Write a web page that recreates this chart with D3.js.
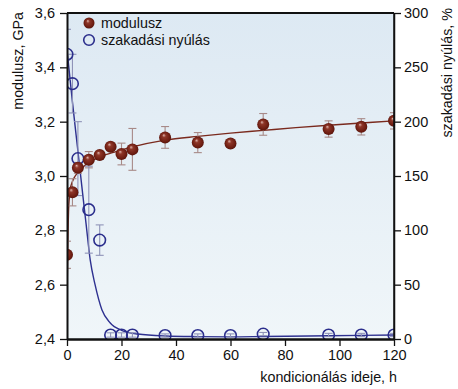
<!DOCTYPE html>
<html><head><meta charset="utf-8">
<script src="https://cdn.jsdelivr.net/npm/d3@7"></script>
<style>html,body{margin:0;padding:0;background:#fff;}svg{display:block;font-family:"Liberation Sans",Arial,sans-serif;}</style>
</head><body>
<svg id="c" width="458" height="389"></svg>
<script>
// data
const hours = [0,2,4,8,12,16,20,24,36,48,60,72,96,108,120];
const modulus = [2.71,2.94,3.03,3.06,3.077,3.108,3.081,3.098,3.142,3.123,3.12,3.19,3.173,3.181,3.203];
const modulusErr = [0.05,0.05,0.02,0.03,0.01,0.01,0.04,0.077,0.04,0.037,0,0.04,0.03,0.03,0.03];
const elongation = [262,235,166,119,91,3.7,3.7,3.7,3.2,3.2,3.2,4.5,3.7,3.7,3.7];
const elongationErr = [23,27,34,40,14,2,2,2,1.5,1.5,1.5,1.5,1.5,1.5,1.5];
const modFitHours = [0.1,0.3,0.6,1.2,2,3,4.8,8,12,18,24,36,48,60,72,84,96,108,120];
const modFitValues = [2.62,2.75,2.88,2.95,2.98,3.0,3.022,3.05,3.07,3.09,3.107,3.132,3.146,3.158,3.168,3.178,3.187,3.195,3.203];
const elFitHours = [0,2,4,6,7,8.5,10.3,12.8,15.8,20,26,36,48,60,72,96,120];
const elFitValues = [266,218,173,128,106,73,50,27,15,8,4.6,2.8,2.2,2.0,2.3,3.0,3.7];
const xTicks = [0,20,40,60,80,100,120];
const yLeftTicks = [2.4,2.6,2.8,3.0,3.2,3.4,3.6];
const yRightTicks = [0,50,100,150,200,250,300];
const legendLabels = ["modulusz","szakadási nyúlás"];
const xTitle = "kondicionálás ideje, h";
const yLeftTitle = "modulusz, GPa";
const yRightTitle = "szakadási nyúlás, %";

const L=67, R=394, T=13, B=339;
const svg = d3.select("#c");
const x = d3.scaleLinear().domain([0,120]).range([L,R]);
const yL = d3.scaleLinear().domain([2.4,3.6]).range([B,T]);
const yR = d3.scaleLinear().domain([0,300]).range([B,T]);

const defs = svg.append("defs");
const bg = defs.append("linearGradient").attr("id","bg").attr("x1",0).attr("y1",0).attr("x2",0).attr("y2",1);
bg.append("stop").attr("offset","0%").attr("stop-color","#dde9f3");
bg.append("stop").attr("offset","100%").attr("stop-color","#f0f6f9");
const sph = defs.append("radialGradient").attr("id","sph").attr("cx","50%").attr("cy","50%").attr("r","55%").attr("fx","38%").attr("fy","30%");
sph.append("stop").attr("offset","0%").attr("stop-color","#e0b8b0");
sph.append("stop").attr("offset","28%").attr("stop-color","#8e3628");
sph.append("stop").attr("offset","80%").attr("stop-color","#6a1b10");
sph.append("stop").attr("offset","100%").attr("stop-color","#4a0f08");
defs.append("clipPath").attr("id","clip").append("rect").attr("x",L).attr("y",T).attr("width",R-L).attr("height",B-T);

svg.append("rect").attr("x",L).attr("y",T).attr("width",R-L).attr("height",B-T).attr("fill","url(#bg)");

const plot = svg.append("g").attr("clip-path","url(#clip)");

// fit lines
const modLine = d3.line().x((d,i)=>x(modFitHours[i])).y(d=>yL(d)).curve(d3.curveMonotoneX);
plot.append("path").attr("d",modLine(modFitValues)).attr("fill","none").attr("stroke","#7a2a1e").attr("stroke-width",1.4);
const elLine = d3.line().x((d,i)=>x(elFitHours[i])).y(d=>yR(d)).curve(d3.curveMonotoneX);
plot.append("path").attr("d",elLine(elFitValues)).attr("fill","none").attr("stroke","#2e3190").attr("stroke-width",1.4);

// error bars
function errBars(vals, errs, sc, color){
  const g = plot.append("g").attr("stroke",color).attr("stroke-width",1.1).attr("fill","none");
  hours.forEach((h,i)=>{
    if(!errs[i]) return;
    const cx = x(h), y1 = sc(vals[i]-errs[i]), y2 = sc(vals[i]+errs[i]);
    g.append("line").attr("x1",cx).attr("x2",cx).attr("y1",y1).attr("y2",y2);
    g.append("line").attr("x1",cx-4).attr("x2",cx+4).attr("y1",y1).attr("y2",y1);
    g.append("line").attr("x1",cx-4).attr("x2",cx+4).attr("y1",y2).attr("y2",y2);
  });
}
errBars(modulus, modulusErr, yL, "#a88a88");
errBars(elongation, elongationErr, yR, "#8f93b8");

// markers
plot.append("g").selectAll("circle").data(elongation).join("circle")
  .attr("cx",(d,i)=>x(hours[i])).attr("cy",d=>yR(d)).attr("r",5.8)
  .attr("fill","none").attr("stroke","#2b2e8c").attr("stroke-width",1.6);
plot.append("g").selectAll("circle").data(modulus).join("circle")
  .attr("cx",(d,i)=>x(hours[i])).attr("cy",d=>yL(d)).attr("r",6)
  .attr("fill","url(#sph)");

// frame
svg.append("line").attr("x1",L).attr("x2",R).attr("y1",T).attr("y2",T).attr("stroke","#111").attr("stroke-width",2.2);
svg.append("line").attr("x1",R).attr("x2",R).attr("y1",T).attr("y2",B).attr("stroke","#111").attr("stroke-width",1.5);

// axes
const fmt = d=>d3.format(".1f")(d).replace(".",",");
const ax = svg.append("g").attr("transform",`translate(0,${B})`).call(d3.axisBottom(x).tickValues(xTicks).tickSize(7).tickPadding(4).tickSizeOuter(0));
const ayL = svg.append("g").attr("transform",`translate(${L},0)`).call(d3.axisLeft(yL).tickValues(yLeftTicks).tickFormat(fmt).tickSize(7).tickPadding(5).tickSizeOuter(0));
const ayR = svg.append("g").attr("transform",`translate(${R},0)`).call(d3.axisRight(yR).tickValues(yRightTicks).tickSize(7).tickPadding(3).tickSizeOuter(0));
[ax,ayL,ayR].forEach(a=>{
  a.selectAll("text").attr("font-size",14.5).attr("fill","#111").attr("font-family","Liberation Sans, Arial, sans-serif");
  a.selectAll(".tick line").attr("stroke","#111").attr("stroke-width",1.3);
  a.select(".domain").attr("stroke","#111");
});
ax.select(".domain").attr("stroke-width",2.6);
ayL.select(".domain").attr("stroke-width",2);
ayR.select(".domain").attr("stroke-width",1.5);

// titles
svg.append("text").attr("x",397).attr("y",382).attr("text-anchor","end").attr("font-size",14.3).attr("fill","#111").text(xTitle);
svg.append("text").attr("transform","translate(22.5,0) rotate(-90)").attr("x",-12).attr("text-anchor","end").attr("font-size",14.3).attr("fill","#111").text(yLeftTitle);
svg.append("text").attr("transform","translate(452,0) rotate(-90)").attr("x",-8).attr("text-anchor","end").attr("font-size",14.3).attr("fill","#111").text(yRightTitle);

// legend
const lg = svg.append("g");
lg.append("circle").attr("cx",89).attr("cy",23).attr("r",5.5).attr("fill","url(#sph)");
lg.append("circle").attr("cx",89).attr("cy",40).attr("r",5.3).attr("fill","none").attr("stroke","#2b2e8c").attr("stroke-width",1.6);
lg.selectAll("text").data(legendLabels).join("text")
  .attr("x",101).attr("y",(d,i)=>28+i*17).attr("font-size",14.3).attr("fill","#111").text(d=>d);
</script>
</body></html>
